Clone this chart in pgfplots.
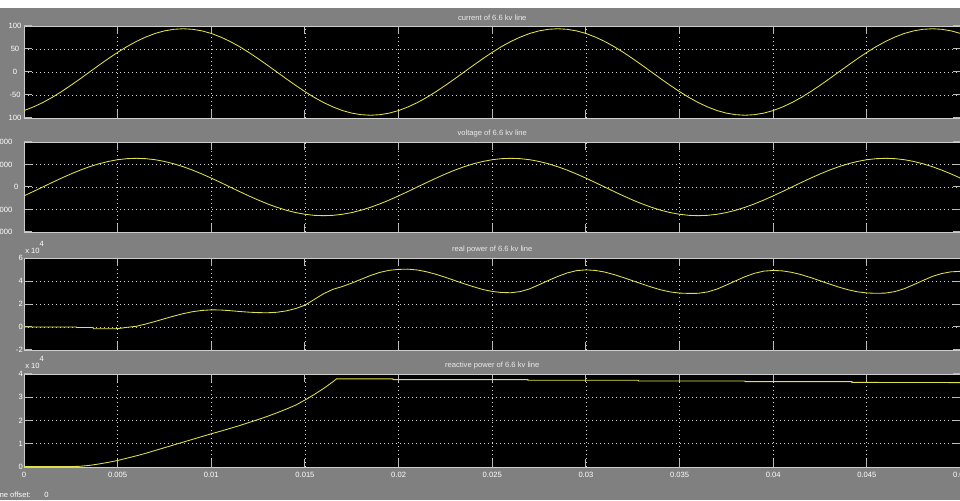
\documentclass[border=0pt]{standalone}
\usepackage{pgfplots}
\pgfplotsset{compat=1.18}
\usepackage{fontspec}
\setmainfont{Liberation Sans}
\newlength\pu \setlength\pu{0.75pt}
\newcommand\lab{\fontsize{5.7pt}{6.8pt}\selectfont}
\definecolor{figgray}{RGB}{128,128,128}
\definecolor{framecol}{RGB}{205,205,205}
\definecolor{tickcol}{RGB}{185,185,185}
\definecolor{gridcol}{RGB}{215,215,215}
\definecolor{titlecol}{RGB}{235,235,235}
\definecolor{plotcol}{RGB}{225,225,75}
\pgfplotsset{scopeaxis/.style={
  scale only axis, width=936.5\pu, xmin=0, xmax=0.05,
  xtick={0,0.005,0.01,0.015,0.02,0.025,0.03,0.035,0.04,0.045,0.05},
  axis background/.style={fill=black},
  axis line style={draw=framecol, line width=0.9\pu},
  tick align=inside, xtick pos=both, ytick pos=both,
  major tick length=8\pu,
  tick style={draw=tickcol, line width=1\pu},
  grid=major, major grid style={draw=gridcol, line width=0.8\pu, dash pattern=on 1\pu off 3\pu},
  ticklabel style={font=\lab, text=white, inner sep=0pt},
  every axis title/.style={at={(0.5,1)}, anchor=center, yshift=8.5\pu, font=\lab, text=titlecol, inner sep=0pt},
  scaled ticks=false,
  cycle list={{draw=plotcol, line width=0.85\pu, mark=none}},
}}
\begin{document}
\begin{tikzpicture}[x=\pu,y=\pu]
\path[use as bounding box] (0,0) rectangle (960,500);
\begin{scope}
\clip (0,0) rectangle (960,500);
\fill[figgray] (0,0) rectangle (960,492);
\fill[white] (0,492) rectangle (960,500);

% ---------- current ----------
\begin{axis}[scopeaxis, at={(24\pu,382\pu)}, anchor=south west, height=92\pu,
  ymin=-100, ymax=100, ytick={-100,-50,0,50,100},
  yticklabels={100,-50,0,50,100},
  yticklabel style={anchor=center, xshift=-9\pu},
  xticklabels={},
  title={current of 6.6 kv line}]
\addplot[draw=plotcol, line width=0.85\pu, mark=none] coordinates {(0,-83.8)(0.0005,-76.0)(0.001,-66.5)(0.0015,-55.3)(0.002,-42.7)(0.0025,-29.0)(0.003,-14.7)(0.0035,0)(0.004,14.7)(0.0045,29.0)(0.005,42.7)(0.0055,55.3)(0.006,66.5)(0.0065,76.0)(0.007,83.8)(0.0075,89.4)(0.008,92.8)(0.0085,94)(0.009,92.8)(0.0095,89.4)(0.01,83.8)(0.0105,76.0)(0.011,66.5)(0.0115,55.3)(0.012,42.7)(0.0125,29.0)(0.013,14.7)(0.0135,0)(0.014,-14.7)(0.0145,-29.0)(0.015,-42.7)(0.0155,-55.3)(0.016,-66.5)(0.0165,-76.0)(0.017,-83.8)(0.0175,-89.4)(0.018,-92.8)(0.0185,-94)(0.019,-92.8)(0.0195,-89.4)(0.02,-83.8)(0.0205,-76.0)(0.021,-66.5)(0.0215,-55.3)(0.022,-42.7)(0.0225,-29.0)(0.023,-14.7)(0.0235,0)(0.024,14.7)(0.0245,29.0)(0.025,42.7)(0.0255,55.3)(0.026,66.5)(0.0265,76.0)(0.027,83.8)(0.0275,89.4)(0.028,92.8)(0.0285,94)(0.029,92.8)(0.0295,89.4)(0.03,83.8)(0.0305,76.0)(0.031,66.5)(0.0315,55.3)(0.032,42.7)(0.0325,29.0)(0.033,14.7)(0.0335,0)(0.034,-14.7)(0.0345,-29.0)(0.035,-42.7)(0.0355,-55.3)(0.036,-66.5)(0.0365,-76.0)(0.037,-83.8)(0.0375,-89.4)(0.038,-92.8)(0.0385,-94)(0.039,-92.8)(0.0395,-89.4)(0.04,-83.8)(0.0405,-76.0)(0.041,-66.5)(0.0415,-55.3)(0.042,-42.7)(0.0425,-29.0)(0.043,-14.7)(0.0435,0)(0.044,14.7)(0.0445,29.0)(0.045,42.7)(0.0455,55.3)(0.046,66.5)(0.0465,76.0)(0.047,83.8)(0.0475,89.4)(0.048,92.8)(0.0485,94)(0.049,92.8)(0.0495,89.4)(0.05,83.8)};
\end{axis}

% ---------- voltage ----------
\begin{axis}[scopeaxis, at={(24\pu,268\pu)}, anchor=south west, height=90\pu,
  ymin=-8000, ymax=8000, ytick={-8000,-4000,0,4000,8000},
  yticklabels={000\kern10.5\pu,000\kern10.5\pu,0\kern4.5\pu,000\kern10.5\pu,000\kern10.5\pu},
  yticklabel style={anchor=east, xshift=-1\pu},
  xticklabels={},
  title={voltage of 6.6 kv line}]
\addplot[draw=plotcol, line width=0.85\pu, mark=none] coordinates {(0,-1576)(0.0005,-798)(0.001,0)(0.0015,798)(0.002,1576)(0.0025,2315)(0.003,2998)(0.0035,3606)(0.004,4126)(0.0045,4544)(0.005,4851)(0.0055,5037)(0.006,5100)(0.0065,5037)(0.007,4851)(0.0075,4544)(0.008,4126)(0.0085,3606)(0.009,2998)(0.0095,2315)(0.01,1576)(0.0105,798)(0.011,0)(0.0115,-798)(0.012,-1576)(0.0125,-2315)(0.013,-2998)(0.0135,-3606)(0.014,-4126)(0.0145,-4544)(0.015,-4851)(0.0155,-5037)(0.016,-5100)(0.0165,-5037)(0.017,-4851)(0.0175,-4544)(0.018,-4126)(0.0185,-3606)(0.019,-2998)(0.0195,-2315)(0.02,-1576)(0.0205,-798)(0.021,0)(0.0215,798)(0.022,1576)(0.0225,2315)(0.023,2998)(0.0235,3606)(0.024,4126)(0.0245,4544)(0.025,4851)(0.0255,5037)(0.026,5100)(0.0265,5037)(0.027,4851)(0.0275,4544)(0.028,4126)(0.0285,3606)(0.029,2998)(0.0295,2315)(0.03,1576)(0.0305,798)(0.031,0)(0.0315,-798)(0.032,-1576)(0.0325,-2315)(0.033,-2998)(0.0335,-3606)(0.034,-4126)(0.0345,-4544)(0.035,-4851)(0.0355,-5037)(0.036,-5100)(0.0365,-5037)(0.037,-4851)(0.0375,-4544)(0.038,-4126)(0.0385,-3606)(0.039,-2998)(0.0395,-2315)(0.04,-1576)(0.0405,-798)(0.041,0)(0.0415,798)(0.042,1576)(0.0425,2315)(0.043,2998)(0.0435,3606)(0.044,4126)(0.0445,4544)(0.045,4851)(0.0455,5037)(0.046,5100)(0.0465,5037)(0.047,4851)(0.0475,4544)(0.048,4126)(0.0485,3606)(0.049,2998)(0.0495,2315)(0.05,1576)};
\end{axis}

% ---------- real power ----------
\begin{axis}[scopeaxis, at={(24\pu,150\pu)}, anchor=south west, height=92\pu,
  ymin=-20000, ymax=60000, ytick={-20000,0,20000,40000,60000},
  yticklabels={-2,0,2,4,6},
  yticklabel style={anchor=east, xshift=-1\pu},
  xticklabels={},
  title={real power of 6.6 kv line},
  extra description/.code={\node[anchor=south west, font=\lab, text=white, inner sep=0pt] at ([xshift=1\pu,yshift=4\pu]axis description cs:0,1) {x 10\raisebox{7.5\pu}{4}};}]
\addplot[draw=plotcol, line width=0.85\pu, mark=none] coordinates {(0,0)(0.0028,0)(0.0028,-400)(0.0037,-400)(0.0037,-1500)(0.0049,-1500)(0.0052,-1000)(0.0055,-300)(0.006,600)(0.0065,2600)(0.007,4800)(0.0075,7200)(0.008,9500)(0.0085,11600)(0.009,13300)(0.0095,14400)(0.01,14900)(0.0105,14800)(0.011,14200)(0.0115,13500)(0.012,12900)(0.0125,12500)(0.013,12400)(0.0135,12800)(0.014,14000)(0.0145,16000)(0.015,19000)(0.0155,24000)(0.016,29000)(0.0165,32800)(0.017,35200)(0.0175,38200)(0.018,41500)(0.0185,44800)(0.019,47500)(0.0195,49300)(0.02,50100)(0.0205,50300)(0.021,49600)(0.0215,48000)(0.022,45800)(0.0225,43200)(0.023,40400)(0.0235,37600)(0.024,35000)(0.0245,32600)(0.025,30900)(0.0255,30000)(0.026,29800)(0.0265,30800)(0.027,33200)(0.0275,36800)(0.028,40500)(0.0285,44000)(0.029,47000)(0.0295,49000)(0.03,49700)(0.0305,49200)(0.031,47800)(0.0315,45600)(0.032,43000)(0.0325,40200)(0.033,37400)(0.0335,34700)(0.034,32300)(0.0345,30500)(0.035,29500)(0.0355,29200)(0.036,29300)(0.0365,30500)(0.037,33000)(0.0375,36500)(0.038,40200)(0.0385,43800)(0.039,46700)(0.0395,48600)(0.04,49200)(0.0405,48800)(0.041,47500)(0.0415,45500)(0.042,43000)(0.0425,40200)(0.043,37400)(0.0435,34700)(0.044,32400)(0.0445,30600)(0.045,29600)(0.0455,29300)(0.046,29500)(0.0465,30800)(0.047,33300)(0.0475,36800)(0.048,40500)(0.0485,44000)(0.049,46500)(0.0495,48000)(0.05,48400)};
\end{axis}

% ---------- reactive power ----------
\begin{axis}[scopeaxis, at={(24\pu,33\pu)}, anchor=south west, height=93\pu,
  ymin=0, ymax=40000, ytick={0,10000,20000,30000,40000},
  yticklabels={0,1,2,3,4},
  yticklabel style={anchor=east, xshift=-1\pu},
  xticklabels={0,0.005,0.01,0.015,0.02,0.025,0.03,0.035,0.04,0.045,0.05},
  xticklabel style={anchor=center, yshift=-8\pu},
  title={reactive power of 6.6 kv line},
  extra description/.code={\node[anchor=south west, font=\lab, text=white, inner sep=0pt] at ([xshift=1\pu,yshift=5\pu]axis description cs:0,1) {x 10\raisebox{7.5\pu}{4}};}]
\addplot[draw=plotcol, line width=0.85\pu, mark=none] coordinates {(0,200)(0.0025,200)(0.003,300)(0.0035,700)(0.004,1300)(0.0045,2000)(0.005,2800)(0.0055,3800)(0.006,4800)(0.0065,5900)(0.007,7100)(0.0075,8300)(0.008,9500)(0.0085,10700)(0.009,11900)(0.0095,13100)(0.01,14300)(0.0105,15400)(0.011,16600)(0.0115,17800)(0.012,19100)(0.0125,20400)(0.013,21800)(0.0135,23300)(0.014,24900)(0.0145,26600)(0.015,28800)(0.0155,31200)(0.016,33800)(0.0165,36700)(0.01668,37900)(0.0197,37900)(0.0197,37600)(0.0269,37600)(0.0269,37300)(0.0328,37300)(0.0328,37000)(0.0385,37000)(0.0385,36700)(0.0442,36700)(0.0442,36400)(0.05,36300)};
\end{axis}

\node[anchor=east, font=\lab, text=white, inner sep=0pt] at (31,5) {Time offset:};
\node[anchor=west, font=\lab, text=white, inner sep=0pt] at (44,5) {0};
\end{scope}
\end{tikzpicture}
\end{document}
